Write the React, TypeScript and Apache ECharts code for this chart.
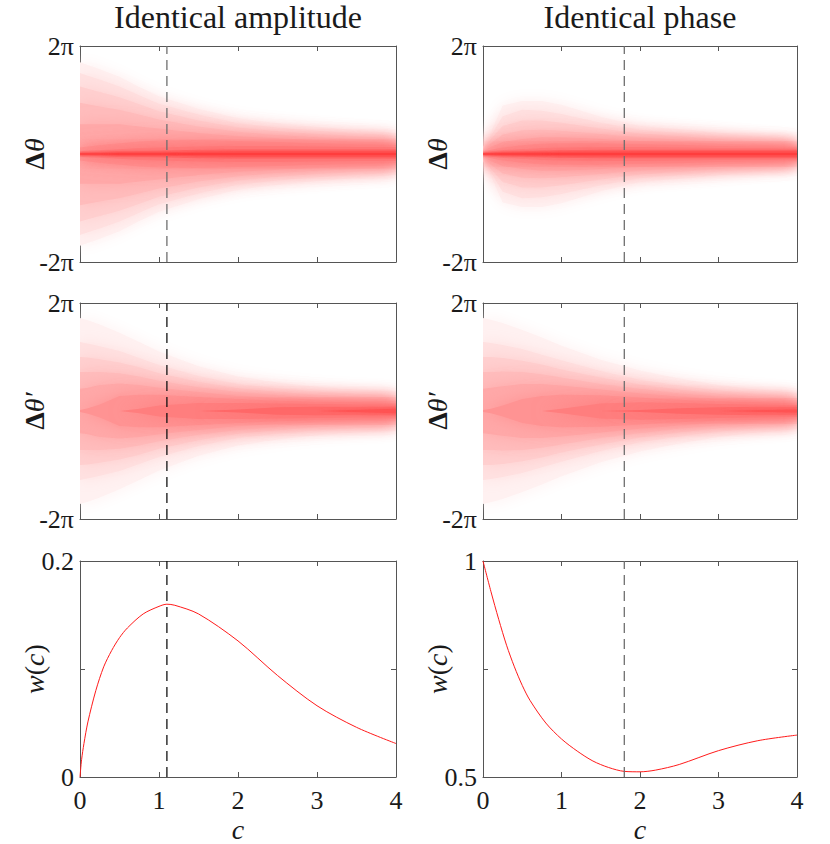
import React, { useEffect, useRef } from "react";
import * as echarts from "echarts";

// ---------- data ----------
const C_GRID = [0, 0.1, 0.25, 0.5, 0.75, 1, 1.5, 2, 2.5, 3, 3.5, 4];
const X_TICKS = [0, 1, 2, 3, 4];
const TITLES = ["Identical amplitude", "Identical phase"];
const DASH_AMP = 1.1;
const DASH_PHASE = 1.8;

// shading levels, light -> dark
const LEVEL_COLORS = [
  "#fff1f1", "#ffe1e1", "#ffcfcf", "#ffbcbc", "#ffa8a8",
  "#ff9393", "#ff7e7e", "#ff6868", "#ff5252", "#ff3c3c",
];

// half widths (in units of pi) of each shading level at C_GRID
const AMP_DTHETA = [
  [1.70, 1.65, 1.57, 1.43, 1.24, 1.07, 0.84, 0.66, 0.57, 0.50, 0.44, 0.39],
  [1.50, 1.45, 1.38, 1.25, 1.09, 0.93, 0.73, 0.57, 0.49, 0.43, 0.38, 0.34],
  [1.25, 1.21, 1.15, 1.05, 0.92, 0.79, 0.62, 0.49, 0.42, 0.37, 0.33, 0.29],
  [0.95, 0.92, 0.88, 0.82, 0.73, 0.64, 0.51, 0.41, 0.35, 0.31, 0.28, 0.25],
  [0.55, 0.55, 0.55, 0.55, 0.51, 0.47, 0.39, 0.33, 0.29, 0.26, 0.23, 0.21],
  [0.12, 0.14, 0.16, 0.20, 0.23, 0.25, 0.26, 0.24, 0.22, 0.20, 0.18, 0.17],
  [0.05, 0.06, 0.07, 0.09, 0.11, 0.12, 0.14, 0.15, 0.15, 0.14, 0.13, 0.13],
  [0.03, 0.03, 0.04, 0.05, 0.055, 0.06, 0.08, 0.09, 0.09, 0.09, 0.09, 0.09],
  [0.02, 0.02, 0.02, 0.03, 0.03, 0.03, 0.04, 0.05, 0.05, 0.05, 0.05, 0.05],
  [0.01, 0.01, 0.01, 0.012, 0.014, 0.015, 0.02, 0.02, 0.02, 0.02, 0.02, 0.02],
];

const PHASE_DTHETA = [
  [0.13, 0.40, 0.90, 0.98, 0.98, 0.91, 0.69, 0.52, 0.46, 0.40, 0.32, 0.25],
  [0.10, 0.34, 0.70, 0.82, 0.80, 0.74, 0.58, 0.45, 0.39, 0.33, 0.27, 0.22],
  [0.08, 0.28, 0.52, 0.62, 0.62, 0.58, 0.47, 0.38, 0.33, 0.28, 0.23, 0.19],
  [0.06, 0.20, 0.36, 0.44, 0.45, 0.43, 0.37, 0.31, 0.27, 0.23, 0.20, 0.17],
  [0.05, 0.13, 0.22, 0.28, 0.31, 0.31, 0.28, 0.24, 0.22, 0.19, 0.17, 0.15],
  [0.04, 0.08, 0.12, 0.16, 0.19, 0.20, 0.20, 0.18, 0.17, 0.15, 0.14, 0.13],
  [0.03, 0.05, 0.07, 0.09, 0.11, 0.12, 0.13, 0.13, 0.12, 0.11, 0.11, 0.10],
  [0.02, 0.03, 0.04, 0.05, 0.06, 0.07, 0.08, 0.08, 0.08, 0.08, 0.08, 0.08],
  [0.015, 0.02, 0.025, 0.03, 0.035, 0.04, 0.045, 0.05, 0.05, 0.05, 0.05, 0.05],
  [0.01, 0.01, 0.012, 0.015, 0.015, 0.02, 0.02, 0.02, 0.02, 0.02, 0.02, 0.02],
];

const AMP_DTHETA_P = [
  [1.72, 1.68, 1.60, 1.45, 1.28, 1.10, 0.83, 0.64, 0.53, 0.45, 0.40, 0.36],
  [1.28, 1.25, 1.20, 1.11, 0.98, 0.85, 0.65, 0.50, 0.42, 0.36, 0.32, 0.29],
  [1.00, 0.99, 0.96, 0.90, 0.81, 0.70, 0.54, 0.42, 0.355, 0.30, 0.27, 0.25],
  [0.72, 0.72, 0.72, 0.70, 0.64, 0.56, 0.44, 0.35, 0.295, 0.25, 0.23, 0.21],
  [0.41, 0.43, 0.48, 0.51, 0.48, 0.43, 0.35, 0.28, 0.24, 0.21, 0.19, 0.18],
  [0.02, 0.05, 0.12, 0.28, 0.30, 0.30, 0.26, 0.22, 0.19, 0.17, 0.16, 0.15],
  [0, 0, 0, 0, 0.04, 0.10, 0.15, 0.15, 0.14, 0.13, 0.12, 0.12],
  [0, 0, 0, 0, 0, 0, 0, 0.03, 0.07, 0.08, 0.08, 0.085],
  [0, 0, 0, 0, 0, 0, 0, 0, 0, 0, 0.02, 0.04],
];

const PHASE_DTHETA_P = [
  [1.72, 1.69, 1.63, 1.50, 1.36, 1.21, 0.95, 0.75, 0.60, 0.48, 0.40, 0.34],
  [1.28, 1.26, 1.22, 1.15, 1.04, 0.94, 0.74, 0.58, 0.47, 0.38, 0.32, 0.27],
  [1.00, 1.00, 0.98, 0.93, 0.86, 0.77, 0.62, 0.49, 0.40, 0.32, 0.27, 0.24],
  [0.72, 0.72, 0.73, 0.72, 0.68, 0.62, 0.50, 0.41, 0.33, 0.27, 0.23, 0.20],
  [0.41, 0.43, 0.46, 0.50, 0.50, 0.47, 0.40, 0.33, 0.27, 0.22, 0.19, 0.17],
  [0.02, 0.04, 0.10, 0.22, 0.28, 0.30, 0.29, 0.25, 0.21, 0.18, 0.16, 0.14],
  [0, 0, 0, 0, 0, 0.04, 0.14, 0.16, 0.15, 0.13, 0.12, 0.11],
  [0, 0, 0, 0, 0, 0, 0, 0.02, 0.05, 0.07, 0.08, 0.08],
  [0, 0, 0, 0, 0, 0, 0, 0, 0, 0, 0.015, 0.03],
];

// w(c) curves
const W_AMP_C = [0, 0.02, 0.05, 0.1, 0.2, 0.3, 0.4, 0.5, 0.6, 0.8, 1.0, 1.1, 1.2, 1.5, 2.0, 2.5, 3.0, 3.5, 4.0];
const W_AMP = [0, 0.016, 0.031, 0.051, 0.08, 0.102, 0.117, 0.129, 0.138, 0.151, 0.158, 0.16, 0.159, 0.151, 0.126, 0.094, 0.066, 0.046, 0.031];
const W_PHASE_C = [0, 0.1, 0.2, 0.3, 0.4, 0.5, 0.6, 0.8, 1.0, 1.2, 1.4, 1.6, 1.8, 2.0, 2.2, 2.5, 3.0, 3.5, 4.0];
const W_PHASE = [1.0, 0.93, 0.865, 0.805, 0.755, 0.712, 0.677, 0.625, 0.588, 0.56, 0.537, 0.522, 0.513, 0.512, 0.516, 0.529, 0.561, 0.584, 0.597];

// ---------- layout / style ----------
const FONT = "Liberation Serif";
const AXIS_COLOR = "#555555";
const TEXT_COLOR = "#1a1a1a";
const COLS = [
  { left: 80, width: 316 },
  { left: 483, width: 314 },
];
const ROWS = [
  { top: 46, height: 216 },
  { top: 303, height: 216 },
  { top: 561, height: 217 },
];

type Panel = {
  col: number;
  row: number;
  kind: "band" | "line";
  bands?: number[][];
  xs?: number[];
  ys?: number[];
  yMin: number;
  yMax: number;
  yInterval: number;
  yLabels: Record<string, string>;
  yName: string;
  dash: number;
  dashColor: string;
};

const PANELS: Panel[] = [
  { col: 0, row: 0, kind: "band", bands: AMP_DTHETA, yMin: -2, yMax: 2, yInterval: 2, yLabels: { "-2": "-2π", "2": "2π" }, yName: "{d|Δ}{t|θ}", dash: DASH_AMP, dashColor: "#6e6e6e" },
  { col: 1, row: 0, kind: "band", bands: PHASE_DTHETA, yMin: -2, yMax: 2, yInterval: 2, yLabels: { "-2": "-2π", "2": "2π" }, yName: "{d|Δ}{t|θ}", dash: DASH_PHASE, dashColor: "#6e6e6e" },
  { col: 0, row: 1, kind: "band", bands: AMP_DTHETA_P, yMin: -2, yMax: 2, yInterval: 2, yLabels: { "-2": "-2π", "2": "2π" }, yName: "{d|Δ}{t|θ′}", dash: DASH_AMP, dashColor: "#111111" },
  { col: 1, row: 1, kind: "band", bands: PHASE_DTHETA_P, yMin: -2, yMax: 2, yInterval: 2, yLabels: { "-2": "-2π", "2": "2π" }, yName: "{d|Δ}{t|θ′}", dash: DASH_PHASE, dashColor: "#6e6e6e" },
  { col: 0, row: 2, kind: "line", xs: W_AMP_C, ys: W_AMP, yMin: 0, yMax: 0.2, yInterval: 0.1, yLabels: { "0": "0", "0.2": "0.2" }, yName: "{t|w}{p|(}{t|c}{p|)}", dash: DASH_AMP, dashColor: "#111111" },
  { col: 1, row: 2, kind: "line", xs: W_PHASE_C, ys: W_PHASE, yMin: 0.5, yMax: 1, yInterval: 0.25, yLabels: { "0.5": "0.5", "1": "1" }, yName: "{t|w}{p|(}{t|c}{p|)}", dash: DASH_PHASE, dashColor: "#6e6e6e" },
];

function buildOption() {
  const grid: any[] = [];
  const xAxis: any[] = [];
  const yAxis: any[] = [];
  const series: any[] = [];

  const nameRich = {
    d: { fontFamily: FONT, fontSize: 28, fontWeight: "bold", color: TEXT_COLOR },
    t: { fontFamily: FONT, fontSize: 28, fontStyle: "italic", color: TEXT_COLOR },
    p: { fontFamily: FONT, fontSize: 28, color: TEXT_COLOR },
  };
  const labelRich = {
    s: { fontFamily: FONT, fontSize: 26, color: TEXT_COLOR },
  };

  PANELS.forEach((p, g) => {
    const c = COLS[p.col];
    const r = ROWS[p.row];
    grid.push({ left: c.left, top: r.top, width: c.width, height: r.height, containLabel: false });
    const isBottom = p.row === 2;
    const baseX = {
      type: "value",
      gridIndex: g,
      min: X_TICKS[0],
      max: X_TICKS[X_TICKS.length - 1],
      interval: 1,
      axisLine: { show: true, onZero: false, lineStyle: { color: AXIS_COLOR, width: 1 } },
      axisTick: { show: true, inside: true, length: 5, lineStyle: { color: AXIS_COLOR } },
      splitLine: { show: false },
    };
    xAxis.push({
      ...baseX,
      position: "bottom",
      axisLabel: {
        show: isBottom,
        margin: 10,
        fontFamily: FONT,
        fontSize: 26,
        color: TEXT_COLOR,
        formatter: (v: number) => `{s|${v}}`,
        rich: labelRich,
      },
      name: isBottom ? "{t|c}" : "",
      nameLocation: "middle",
      nameGap: 38,
      nameMoveOverlap: false,
      nameTextStyle: { fontFamily: FONT, rich: nameRich },
    });
    xAxis.push({ ...baseX, position: "top", axisLabel: { show: false } });

    const baseY = {
      type: "value",
      gridIndex: g,
      min: p.yMin,
      max: p.yMax,
      interval: p.yInterval,
      axisLine: { show: true, onZero: false, lineStyle: { color: AXIS_COLOR, width: 1 } },
      axisTick: { show: true, inside: true, length: 5, lineStyle: { color: AXIS_COLOR } },
      splitLine: { show: false },
    };
    const labels = p.yLabels;
    yAxis.push({
      ...baseY,
      position: "left",
      axisLabel: {
        show: true,
        margin: 6,
        fontFamily: FONT,
        fontSize: 26,
        color: TEXT_COLOR,
        formatter: (v: number) => {
          const key = String(Math.round(v * 1000) / 1000);
          const s = labels[key];
          return s ? `{s|${s}}` : "";
        },
        rich: labelRich,
      },
      name: p.yName,
      nameLocation: "middle",
      nameRotate: 90,
      nameGap: 32,
      nameMoveOverlap: false,
      nameTextStyle: { fontFamily: FONT, rich: nameRich },
    });
    yAxis.push({ ...baseY, position: "right", axisLabel: { show: false } });

    if (p.kind === "band" && p.bands) {
      const bands = p.bands;
      series.push({
        type: "custom",
        xAxisIndex: 2 * g,
        yAxisIndex: 2 * g,
        silent: true,
        clip: true,
        z: 1,
        data: bands.map((_, k) => [k]),
        renderItem: (params: any, api: any) => {
          const k = params.dataIndex;
          const w = bands[k];
          const pts: number[][] = [];
          for (let i = 0; i < C_GRID.length; i++) pts.push(api.coord([C_GRID[i], w[i]]));
          for (let i = C_GRID.length - 1; i >= 0; i--) pts.push(api.coord([C_GRID[i], -w[i]]));
          const col = LEVEL_COLORS[k];
          return {
            type: "polygon",
            shape: { points: pts },
            style: {
              fill: col,
              stroke: "none",
              shadowBlur: k >= 8 ? 3 : 16,
              shadowColor: col,
              shadowOffsetX: 0,
              shadowOffsetY: 0,
            },
          };
        },
      });
    } else if (p.xs && p.ys) {
      const ys = p.ys;
      series.push({
        type: "line",
        xAxisIndex: 2 * g,
        yAxisIndex: 2 * g,
        data: p.xs.map((x, i) => [x, ys[i]]),
        symbol: "none",
        smooth: 0.3,
        lineStyle: { color: "#ff1a1a", width: 1 },
        silent: true,
        z: 3,
      });
    }

    series.push({
      type: "line",
      xAxisIndex: 2 * g,
      yAxisIndex: 2 * g,
      data: [
        [p.dash, p.yMin],
        [p.dash, p.yMax],
      ],
      symbol: "none",
      lineStyle: { color: p.dashColor, width: 1.3, type: [10, 6] },
      silent: true,
      z: 4,
    });
  });

  const graphic = TITLES.map((t, i) => ({
    type: "text",
    x: COLS[i].left + COLS[i].width / 2,
    y: 1,
    style: {
      text: t,
      fontFamily: FONT,
      fontSize: 32,
      fill: TEXT_COLOR,
      align: "center",
      textAlign: "center",
      verticalAlign: "top",
      textVerticalAlign: "top",
    },
  }));

  return {
    animation: false,
    backgroundColor: "#ffffff",
    textStyle: { fontFamily: FONT },
    grid,
    xAxis,
    yAxis,
    series,
    graphic,
  };
}

export default function App() {
  const ref = useRef<HTMLDivElement>(null);
  useEffect(() => {
    document.body.style.margin = "0";
    if (!ref.current) return;
    const chart = echarts.init(ref.current, undefined, { renderer: "svg" });
    chart.setOption(buildOption() as any);
    return () => chart.dispose();
  }, []);
  return <div ref={ref} style={{ width: 830, height: 844 }} />;
}
